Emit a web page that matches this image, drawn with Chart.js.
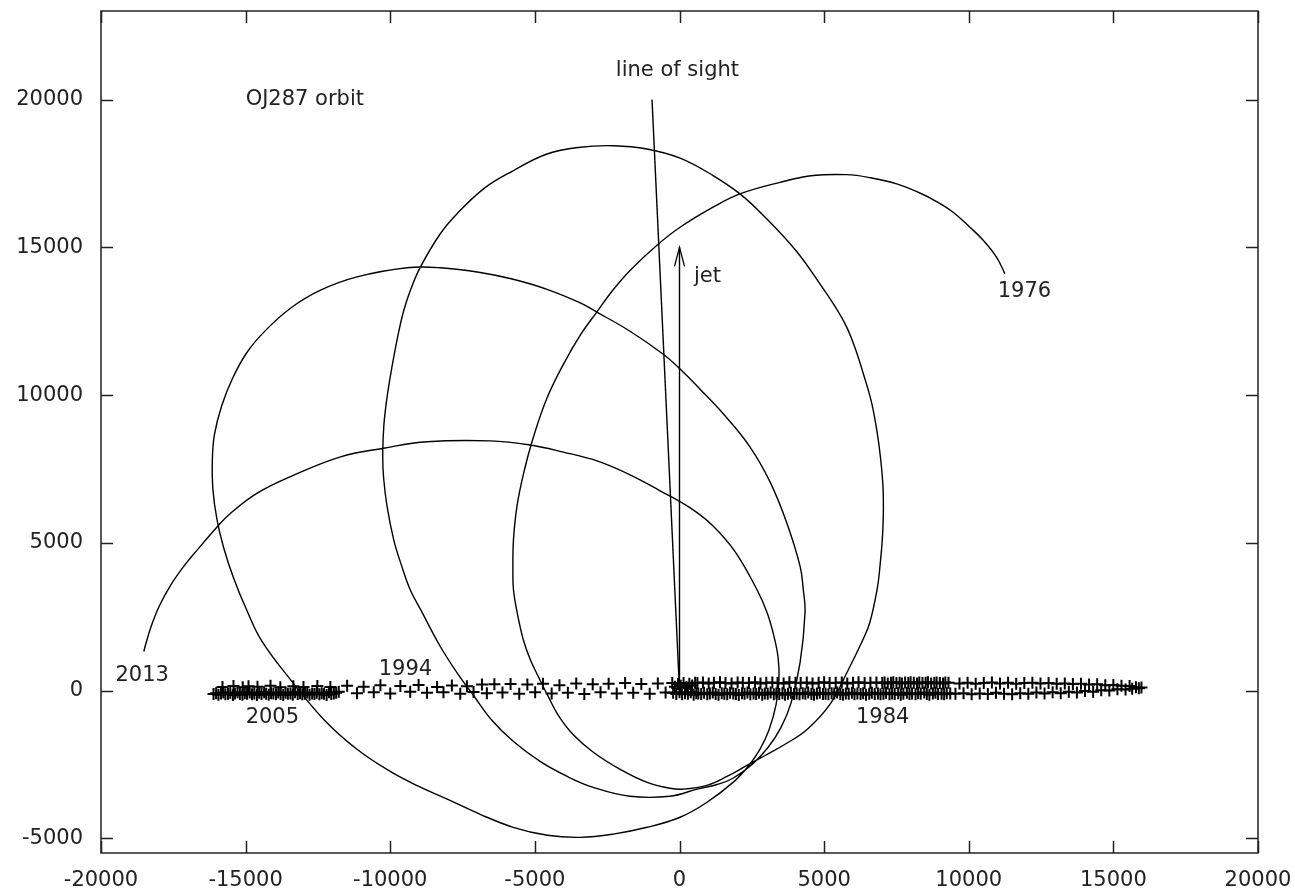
<!DOCTYPE html>
<html>
<head>
<meta charset="utf-8">
<script src="https://cdn.jsdelivr.net/npm/chart.js@4.4.0/dist/chart.umd.min.js"></script>
<style>
body { margin: 0; background: #fff; }
#wrap { width: 1295px; height: 893px; }
</style>
</head>
<body>
<div id="wrap"><canvas id="orbitChart" width="1295" height="893"></canvas></div>
<script>
// axis ticks
var xTicks = [-20000, -15000, -10000, -5000, 0, 5000, 10000, 15000, 20000];
var yTicks = [-5000, 0, 5000, 10000, 15000, 20000];

// orbit of the secondary, 1976 -> 2013
var orbitX = [
  // 1976 arc, down its left side to the first pericentre
  11250, 10960, 10500, 10040, 9460, 8890, 8310, 7510, 6580, 5780, 4620, 3480, 2090, 1160, 20, -780, -1710, -2280, -2860, -3430,
  -4010, -4580, -5050, -5390, -5620, -5740, -5760, -5740, -5610, -5400, -5160, -4850, -4540, -4190, -3680, -2980, -2050, -1120, -330, 120,
  950, 1640, 2270,
  // tall loop
  2960, 3650, 4410, 5200, 5790, 6340, 6580, 6830, 6930, 7030, 7040, 6930, 6790, 6620, 6350, 6070, 5780, 5370, 4960, 4050,
  2900, 2090, 1160, 20, -1130, -2280, -3430, -4580, -5740, -6710, -7690, -8270, -8960, -9290, -9530, -9740, -9930, -10100, -10220, -10260,
  -10230, -10110, -9880, -9620, -9310, -8890, -8270, -7690, -7120, -6510, -5750, -4820, -3880, -2980, -1710, -330, 610, 1300, 1850,
  // middle loop
  2510, 3060, 3510, 3860, 4170, 4340, 4280, 4170, 3710, 3130, 2440, 1580, 710, 20, -560, -1710, -2860, -3430, -4580, -5750,
  -6890, -8270, -9420, -11150, -12410, -13450, -14310, -14950, -15450, -15830, -16080, -16150, -16130, -15990, -15760, -15420, -14970, -14450, -13450, -12300,
  -11150, -10000, -9030, -8030, -6890, -5750, -4570, -3430, -2290, -1120, 20, 940, 1850,
  // last loop, ending in 2013
  2370, 2780, 3100, 3340, 3440, 3410, 3270, 3030, 2680, 1920, 1160, 370, -670, -1710, -2850, -4020, -5160, -6540, -8730, -10230,
  -11720, -13450, -14600, -15520, -16010, -16670, -17140, -17600, -17980, -18270, -18460, -18520
];
var orbitY = [
  14110, 14670, 15240, 15680, 16190, 16550, 16840, 17150, 17360, 17460, 17430, 17200, 16810, 16360, 15680, 15070, 14220, 13580, 12810, 12030,
  11050, 9900, 8580, 7350, 6230, 5100, 4090, 3410, 2630, 1720, 1050, 410, -200, -840, -1490, -2090, -2670, -3110, -3310, -3340,
  -3210, -2910, -2570,
  -2200, -1820, -1320, -470, 610, 1720, 2300, 3410, 4200, 5440, 6790, 8040, 8990, 9830, 10740, 11590, 12300, 13010, 13610, 14860,
  16080, 16810, 17430, 18020, 18330, 18440, 18390, 18160, 17600, 17030, 16140, 15460, 14330, 13580, 12870, 11990, 11010, 10000, 8990, 7970,
  7200, 6230, 5100, 4260, 3410, 2630, 1490, 600, -170, -980, -1720, -2400, -2910, -3280, -3580, -3580, -3340, -3180, -2970,
  -2500, -1930, -1250, -410, 950, 2630, 3410, 4200, 5670, 7060, 8240, 9290, 10200, 10880, 11380, 12160, 12810, 13120, 13580, 13920,
  14150, 14310, 14310, 14000, 13550, 12940, 12190, 11450, 10570, 9630, 8650, 7800, 6790, 5780, 4830, 3820, 2740, 1690, 370, -980,
  -1990, -2740, -3240, -3680, -4190, -4630, -4900, -4970, -4860, -4630, -4290, -3790, -3110,
  -2570, -1990, -1320, -470, 370, 1110, 1820, 2630, 3410, 4700, 5570, 6180, 6760, 7300, 7770, 8070, 8310, 8450, 8420, 8200,
  7910, 7240, 6680, 6000, 5510, 4760, 4200, 3550, 2870, 2160, 1550, 1320
];

// the "+" band along y ~ 0, as [x, y]
var crossPoints = [
  // dense block on the left
  [-16110,-120],[-16020,-90],[-15940,-140],[-15850,-100],[-15770,-70],[-15700,-130],[-15610,-110],[-15530,-80],[-15440,-150],[-15370,-100],
  [-15280,-60],[-15200,-120],[-15110,-140],[-15030,-90],[-14950,-110],[-14860,-70],[-14780,-130],[-14700,-100],[-14610,-150],[-14530,-80],
  [-14450,-120],[-14360,-60],[-14290,-110],[-14200,-140],[-14120,-90],[-14040,-100],[-13950,-130],[-13870,-70],[-13790,-120],[-13700,-150],
  [-13620,-80],[-13540,-110],[-13450,-100],[-13370,-140],[-13290,-60],[-13200,-120],[-13120,-90],[-13040,-130],[-12950,-110],[-12870,-70],
  [-12790,-140],[-12700,-100],[-12620,-120],[-12540,-80],[-12450,-130],[-12370,-90],[-12290,-110],[-12200,-150],[-12120,-60],[-12040,-120],
  [-11950,-100],[-11870,-80],
  [-15800,120],[-15420,150],[-15100,110],[-14900,140],[-14590,130],[-14140,160],[-13800,110],[-13350,140],[-13000,120],[-12520,150],[-12070,120],
  // sparser crosses towards the centre
  [-11780,-40],[-11490,160],[-11150,-90],[-10920,130],[-10570,-60],[-10340,180],[-10000,-100],[-9650,150],[-9310,-40],[-9020,190],
  [-8730,-80],[-8380,120],[-8160,-60],[-7870,170],[-7580,-110],[-7350,140],[-7120,-50],[-6830,200],[-6660,-90],
  [-6400,210],[-6120,-70],[-5840,220],[-5540,-110],[-5260,200],[-4990,-60],[-4720,230],[-4420,-100],[-4150,180],[-3860,-80],
  [-3570,240],[-3290,-120],[-3000,210],[-2730,-60],[-2450,230],[-2170,-100],[-1880,250],[-1600,-80],[-1320,220],[-1030,-110],
  [-750,240],[-480,-70],[-250,250],
  // solid block at the origin
  [-220,-80],[-160,130],[-110,-120],[-50,220],[0,-60],[40,160],[90,-130],[140,250],[190,-90],[240,120],
  [290,-110],[340,230],[390,-60],[440,170],[490,-140],[540,260],[580,-90],
  // upper row, right half
  [620,250],[810,270],[1010,240],[1190,260],[1400,280],[1590,250],[1800,240],[2010,270],[2190,260],[2400,250],
  [2610,280],[2800,240],[3000,260],[3210,270],[3390,250],[3600,240],[3800,280],[4010,260],[4190,250],[4400,270],
  [4600,240],[4810,260],[5000,280],[5190,250],[5400,260],[5610,270],[5800,240],[6000,260],[6190,280],[6400,250],
  [6600,260],[6810,270],
  [7010,250],[7090,270],[7200,240],[7310,260],[7390,280],[7500,250],[7610,260],[7690,240],[7800,270],[7910,250],
  [7990,280],[8100,260],[8210,240],[8290,270],[8400,250],[8510,260],[8590,280],[8700,240],[8810,260],[8890,270],
  [9000,250],[9110,240],[9190,270],[9300,260],
  [9680,240],[9960,260],[10240,230],[10520,250],[10800,270],[11080,240],[11360,260],[11640,230],[11920,250],[12200,260],
  [12480,240],[12760,250],[13040,230],[13320,240],[13600,220],[13880,230],[14160,200],[14440,210],[14720,180],[15000,190],
  [15280,160],[15560,150],
  // lower row, right half
  [650,-100],[750,-120],[850,-80],[960,-130],[1050,-100],[1150,-70],[1250,-120],[1350,-140],[1460,-90],[1550,-110],
  [1650,-130],[1750,-80],[1860,-100],[1950,-120],[2050,-150],[2160,-90],[2250,-110],[2350,-70],[2450,-130],[2560,-100],
  [2650,-120],[2750,-80],[2860,-140],[2950,-100],[3050,-110],[3150,-70],[3260,-130],[3350,-100],[3450,-120],[3560,-90],
  [3650,-140],[3750,-110],[3850,-80],[3960,-120],[4050,-100],[4150,-130],[4260,-90],[4350,-110],[4450,-70],[4560,-120],
  [4650,-140],[4750,-100],[4850,-80],[4960,-120],[5050,-110],[5150,-130],[5260,-90],[5350,-100],[5450,-70],[5560,-120],
  [5650,-140],[5750,-100],[5850,-110],[5960,-80],[6050,-130],[6150,-100],[6260,-120],[6350,-90],[6450,-140],[6560,-110],
  [6650,-80],[6750,-120],[6860,-100],[6950,-130],
  [7050,-110],[7140,-80],[7260,-130],[7350,-100],[7440,-120],[7560,-90],[7650,-140],[7740,-110],[7860,-80],[7950,-120],
  [8040,-100],[8160,-130],[8250,-90],[8340,-110],[8460,-70],[8550,-120],[8640,-140],[8760,-100],[8850,-80],[8940,-120],
  [9060,-110],[9150,-130],[9240,-90],[9360,-100],
  [9540,-110],[9820,-90],[10100,-130],[10380,-100],[10660,-120],[10940,-80],[11220,-110],[11500,-130],[11780,-90],[12060,-110],
  [12340,-70],[12620,-100],[12900,-60],[13180,-90],[13460,-40],[13740,-70],[14020,-20],[14300,-40],[14580,10],[14860,0],
  [15140,40],[15420,30],
  // pointed right end
  [15650,60],[15780,110],[15880,80],[15970,100]
];

// straight lines
var sightX = [-950, 0];
var sightY = [20000, 0];
var jetX = [0, 0];
var jetY = [0, 15000];

// annotations
var textLabels = ['OJ287 orbit', 'line of sight', 'jet', '1976', '2013', '1994', '2005', '1984'];
var textX = [-15000, -2200, 500, 11000, -19500, -10400, -15000, 6100];
var textY = [20000, 21000, 14000, 13500, 500, 700, -900, -900];

var FONT = '21px "DejaVu Sans", sans-serif';
var INK = '#222';

function pairs(xs, ys) {
  var out = [];
  for (var i = 0; i < xs.length; i++) {
    out.push({x: xs[i], y: ys[i]});
  }
  return out;
}

function noScalePadding(scale) {
  scale.paddingLeft = 0;
  scale.paddingRight = 0;
  scale.paddingTop = 0;
  scale.paddingBottom = 0;
}

var framePlugin = {
  id: 'frame',
  afterDatasetsDraw: function(chart) {
    var ctx = chart.ctx,
        area = chart.chartArea,
        xs = chart.scales.x,
        ys = chart.scales.y;

    ctx.save();
    ctx.strokeStyle = '#000';
    ctx.lineWidth = 1.3;
    // arrow head on the jet
    var tipX = xs.getPixelForValue(jetX[1]),
        tipY = ys.getPixelForValue(jetY[1]);
    ctx.beginPath();
    ctx.moveTo(tipX - 5, tipY + 19);
    ctx.lineTo(tipX, tipY);
    ctx.lineTo(tipX + 5, tipY + 19);
    ctx.stroke();

    // border and inward ticks, on all four sides
    ctx.strokeStyle = INK;
    ctx.lineWidth = 1.5;
    ctx.strokeRect(area.left, area.top, area.right - area.left, area.bottom - area.top);
    ctx.beginPath();
    for (var i = 0; i < xTicks.length; i++) {
      var px = Math.round(xs.getPixelForValue(xTicks[i])) + 0.5;
      ctx.moveTo(px, area.bottom);
      ctx.lineTo(px, area.bottom - 12);
      ctx.moveTo(px, area.top);
      ctx.lineTo(px, area.top + 12);
    }
    for (var j = 0; j < yTicks.length; j++) {
      var py = Math.round(ys.getPixelForValue(yTicks[j])) + 0.5;
      ctx.moveTo(area.left, py);
      ctx.lineTo(area.left + 12, py);
      ctx.moveTo(area.right, py);
      ctx.lineTo(area.right - 12, py);
    }
    ctx.stroke();

    // text labels
    ctx.fillStyle = INK;
    ctx.font = FONT;
    ctx.textAlign = 'left';
    ctx.textBaseline = 'middle';
    for (var k = 0; k < textLabels.length; k++) {
      ctx.fillText(textLabels[k], xs.getPixelForValue(textX[k]), ys.getPixelForValue(textY[k]));
    }
    ctx.restore();
  }
};

var myChart = new Chart(document.getElementById('orbitChart').getContext('2d'), {
  type: 'scatter',
  data: {
    datasets: [
      {
        label: 'orbit',
        data: pairs(orbitX, orbitY),
        showLine: true,
        borderColor: '#000',
        borderWidth: 1.4,
        pointRadius: 0,
        tension: 0.4,
        fill: false
      },
      {
        label: 'positions',
        data: crossPoints.map(function(p) { return {x: p[0], y: p[1]}; }),
        pointStyle: 'cross',
        pointRadius: 6,
        borderColor: '#000',
        borderWidth: 2,
        showLine: false
      },
      {
        label: 'line of sight',
        data: pairs(sightX, sightY),
        showLine: true,
        borderColor: '#000',
        borderWidth: 1.4,
        pointRadius: 0
      },
      {
        label: 'jet',
        data: pairs(jetX, jetY),
        showLine: true,
        borderColor: '#000',
        borderWidth: 1.4,
        pointRadius: 0
      }
    ]
  },
  options: {
    responsive: false,
    maintainAspectRatio: false,
    animation: false,
    layout: { padding: { top: 11, right: 37, left: 0, bottom: 0 } },
    plugins: {
      legend: { display: false },
      tooltip: { enabled: false }
    },
    scales: {
      x: {
        type: 'linear',
        min: -20000,
        max: 20000,
        afterBuildTicks: function(scale) {
          scale.ticks = xTicks.map(function(v) { return {value: v}; });
        },
        afterFit: function(scale) {
          scale.height = 40;
          noScalePadding(scale);
        },
        grid: { display: false, drawTicks: false },
        border: { display: false },
        ticks: {
          padding: 15,
          color: INK,
          font: { family: '"DejaVu Sans", sans-serif', size: 21 },
          maxRotation: 0,
          callback: function(v) { return String(v); }
        }
      },
      y: {
        type: 'linear',
        min: -5500,
        max: 23000,
        afterBuildTicks: function(scale) {
          scale.ticks = yTicks.map(function(v) { return {value: v}; });
        },
        afterFit: function(scale) {
          scale.width = 101;
          noScalePadding(scale);
        },
        grid: { display: false, drawTicks: false },
        border: { display: false },
        ticks: {
          padding: 18,
          color: INK,
          font: { family: '"DejaVu Sans", sans-serif', size: 21 },
          callback: function(v) { return String(v); }
        }
      }
    }
  },
  plugins: [framePlugin]
});
</script>
</body>
</html>
